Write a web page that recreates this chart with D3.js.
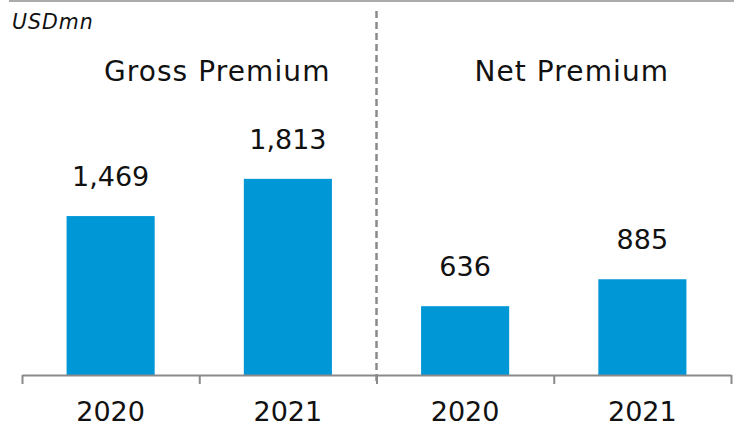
<!DOCTYPE html>
<html>
<head>
<meta charset="utf-8">
<script src="https://cdn.jsdelivr.net/npm/d3@7"></script>
<style>
  html, body { margin: 0; padding: 0; background: #fff; }
  svg { display: block; font-family: "DejaVu Sans", Verdana, sans-serif; }
</style>
</head>
<body>
<svg id="chart" width="734" height="426"></svg>
<script>
const groups = ["Gross Premium", "Net Premium"];
const years = ["2020", "2021"];
const grossPremium = [1469, 1813];
const netPremium = [636, 885];
const unitLabel = "USDmn";

const seriesByGroup = [grossPremium, netPremium];
const rows = [];
groups.forEach((g, gi) => {
  years.forEach((y, yi) => {
    rows.push({ key: g + "|" + y, group: g, year: y, value: seriesByGroup[gi][yi] });
  });
});

const W = 734, H = 426;
const left = 22, right = 731, baseY = 375;
const svg = d3.select("#chart");

const x = d3.scaleBand().domain(rows.map(d => d.key)).range([left, right]).padding(0);
const xb = d3.scaleLinear().domain([0, rows.length]).range([left, right]);
const y = d3.scaleLinear().domain([0, 3466]).range([baseY, 0]);
const barW = x.bandwidth() * 0.497;

// top border line
svg.append("line")
  .attr("x1", 9).attr("x2", W).attr("y1", 1).attr("y2", 1)
  .attr("stroke", "#ababab").attr("stroke-width", 2);

// unit label
svg.append("text")
  .attr("x", 12).attr("y", 29)
  .attr("font-size", 20.5).attr("font-style", "italic")
  .attr("letter-spacing", 1)
  .attr("fill", "#111")
  .text(unitLabel);

// bars
svg.selectAll("rect.bar").data(rows).join("rect")
  .attr("class", "bar")
  .attr("x", d => x(d.key) + (x.bandwidth() - barW) / 2)
  .attr("width", barW)
  .attr("y", d => y(d.value))
  .attr("height", d => y(0) - y(d.value))
  .attr("fill", "#0097d7");

// value labels
const fmt = d3.format(",");
svg.selectAll("text.val").data(rows).join("text")
  .attr("class", "val")
  .attr("x", d => x(d.key) + x.bandwidth() / 2)
  .attr("y", d => y(d.value) - 30)
  .attr("text-anchor", "middle")
  .attr("font-size", 27)
  .attr("fill", "#111")
  .text(d => fmt(d.value));

// group titles
groups.forEach((g, gi) => {
  const cx = (xb(gi * 2) + xb(gi * 2 + 2)) / 2 + 18;
  svg.append("text")
    .attr("x", cx).attr("y", 81)
    .attr("text-anchor", "middle")
    .attr("font-size", 28)
    .attr("letter-spacing", 1.1)
    .attr("fill", "#111")
    .text(g);
});

// axis with boundary ticks
const axisG = svg.append("g")
  .attr("transform", `translate(0,${baseY})`)
  .call(d3.axisBottom(xb).tickValues(d3.range(rows.length + 1)).tickFormat("").tickSize(9).tickSizeOuter(0));
axisG.select(".domain").attr("stroke", "#8a8a8a").attr("stroke-width", 2);
axisG.selectAll(".tick line").attr("stroke", "#8a8a8a").attr("stroke-width", 2);

// year labels
svg.selectAll("text.yr").data(rows).join("text")
  .attr("class", "yr")
  .attr("x", d => x(d.key) + x.bandwidth() / 2)
  .attr("y", 421)
  .attr("text-anchor", "middle")
  .attr("font-size", 27)
  .attr("fill", "#111")
  .text(d => d.year);

// dashed separator between groups
svg.append("line")
  .attr("x1", xb(2)).attr("x2", xb(2))
  .attr("y1", 11).attr("y2", baseY + 9)
  .attr("stroke", "#8a8a8a").attr("stroke-width", 2.5)
  .attr("stroke-dasharray", "7,4");
</script>
</body>
</html>
